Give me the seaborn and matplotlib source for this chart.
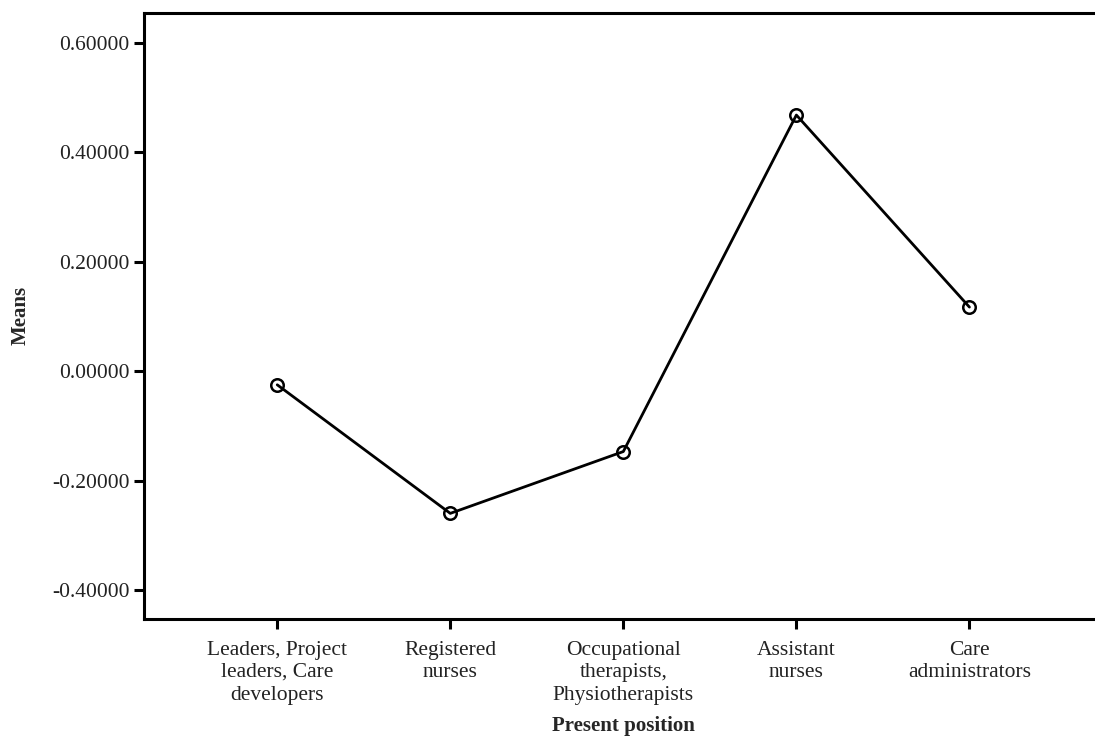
import matplotlib
matplotlib.use("Agg")
import matplotlib.pyplot as plt
import seaborn as sns
import pandas as pd

categories = ["Leaders, Project\nleaders, Care\ndevelopers",
              "Registered\nnurses",
              "Occupational\ntherapists,\nPhysiotherapists",
              "Assistant\nnurses",
              "Care\nadministrators"]
means = [-0.025, -0.260, -0.147, 0.468, 0.117]
yticks = [-0.4, -0.2, 0.0, 0.2, 0.4, 0.6]
ytick_labels = ["-0.40000", "-0.20000", "0.00000", "0.20000", "0.40000", "0.60000"]

sns.set_theme(style="ticks")
plt.rcParams['font.family'] = ['Liberation Serif', 'DejaVu Serif']

df = pd.DataFrame({"Present position": categories, "Means": means})

fig = plt.figure(figsize=(10.95, 7.36), dpi=100)
ax = fig.add_axes([0.1315, 0.159, 0.8755, 0.8237])

sns.lineplot(data=df, x="Present position", y="Means", sort=False, ax=ax,
             color="black", linewidth=2.0, marker="o", markersize=9,
             markerfacecolor="none", markeredgecolor="black", markeredgewidth=1.8)

ax.set_xlim(-0.77, 4.77)
ax.set_ylim(-0.453, 0.655)
ax.set_yticks(yticks)
ax.set_yticklabels(ytick_labels, fontsize=15.5)
ax.set_xticks(range(len(categories)))
ax.set_xticklabels(categories, fontsize=15.5, linespacing=1.25)

for s in ax.spines.values():
    s.set_linewidth(2.2)
    s.set_color("black")
ax.tick_params(axis="both", direction="out", length=7.5, width=2.2, color="black", labelcolor="#222222")
ax.tick_params(axis="x", pad=8)
ax.tick_params(axis="y", pad=3)

ax.set_xlabel("Present position", fontsize=15, fontweight="bold", labelpad=8)
ax.set_ylabel("Means", fontsize=15, fontweight="bold", labelpad=15)

fig.savefig("out.png", dpi=100, facecolor="white")
